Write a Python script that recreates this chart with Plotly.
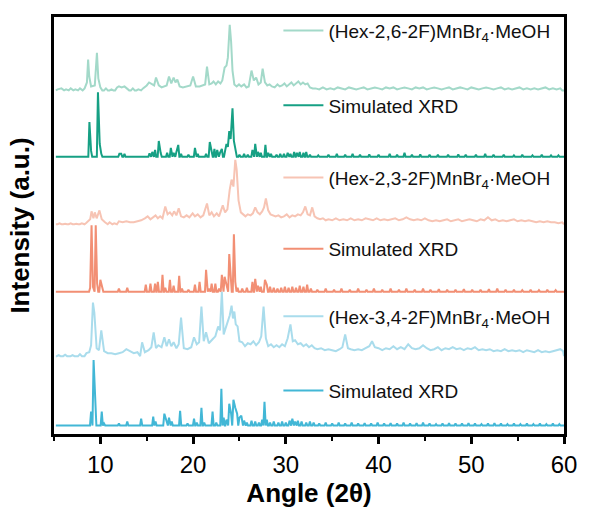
import plotly.graph_objects as go

# ---------------- data (2θ in degrees, intensity in arbitrary units) ----------------
series_names = [
    "(Hex-2,6-2F)MnBr<sub>4</sub>·MeOH",
    "Simulated XRD",
    "(Hex-2,3-2F)MnBr<sub>4</sub>·MeOH",
    "Simulated XRD",
    "(Hex-3,4-2F)MnBr<sub>4</sub>·MeOH",
    "Simulated XRD",
]

hex26_exp = [
    (5.4, 1), (5.8, 2), (6.3, 1), (6.8, 2), (7.3, 1), (7.8, 2), (8.3, 2),
    (8.55, 8), (8.68, 31), (8.8, 14), (9.0, 4), (9.4, 5), (9.63, 38), (9.78, 12), (10.0, 3),
    (10.6, 2), (11.2, 1), (11.8, 3), (12.0, 4), (12.3, 3), (12.6, 4), (12.9, 2), (13.5, 2), (14.1, 1), (14.6, 2),
    (15.0, 5), (15.25, 8), (15.55, 6), (15.8, 5), (16.0, 13), (16.3, 5), (16.6, 3), (16.9, 4), (17.15, 5),
    (17.4, 14), (17.65, 7), (17.9, 13), (18.1, 8), (18.3, 11), (18.55, 4), (18.9, 3), (19.3, 4), (19.7, 5),
    (20.0, 14), (20.3, 4), (20.7, 4), (21.0, 5), (21.3, 6), (21.5, 24), (21.75, 6), (22.0, 7), (22.2, 9),
    (22.45, 6), (22.7, 9), (22.95, 7), (23.15, 10), (23.4, 23), (23.6, 25), (23.75, 33), (23.95, 66),
    (24.1, 49), (24.25, 20), (24.45, 6), (24.7, 4), (24.95, 6), (25.2, 4), (25.5, 6), (25.75, 3), (26.0, 4),
    (26.3, 20), (26.55, 10), (26.8, 13), (27.05, 6), (27.3, 8), (27.5, 22), (27.75, 8), (28.0, 5),
    (28.25, 6), (28.5, 4), (28.8, 3), (29.1, 6), (29.35, 4), (29.6, 5), (29.85, 7), (30.1, 4), (30.35, 6),
    (30.6, 8), (30.85, 5), (31.1, 7), (31.35, 9), (31.6, 6), (31.85, 8), (32.1, 6), (32.35, 7), (32.6, 3),
    (32.9, 2), (33.2, 2), (33.6, 1), (34.0, 3), (34.4, 1), (34.8, 2), (35.2, 1), (35.6, 3), (36.0, 2),
    (36.4, 1), (36.8, 3), (37.2, 2), (37.6, 1), (38.0, 2), (38.4, 3), (38.8, 1), (39.2, 2), (39.6, 3),
    (40.0, 2), (40.4, 1), (40.8, 3), (41.2, 2), (41.6, 3), (42.0, 1), (42.4, 2), (42.8, 3), (43.2, 2),
    (43.6, 1), (44.0, 3), (44.4, 2), (44.8, 3), (45.2, 1), (45.6, 2), (46.0, 3), (46.4, 2), (46.8, 1),
    (47.2, 2), (47.6, 3), (48.0, 1), (48.4, 2), (48.8, 3), (49.2, 2), (49.6, 1), (50.0, 3), (50.4, 2),
    (50.8, 1), (51.2, 2), (51.6, 3), (52.0, 2), (52.4, 1), (52.8, 2), (53.2, 3), (53.6, 1), (54.0, 2),
    (54.4, 1), (54.8, 2), (55.2, 3), (55.6, 1), (56.0, 2), (56.4, 1), (56.8, 2), (57.2, 1), (57.6, 2),
    (58.0, 3), (58.4, 1), (58.8, 2), (59.2, 1), (59.6, 2),
]

hex26_sim = [
    (8.82, 35), (9.0, 6), (9.74, 65), (9.93, 13), (10.1, 3),
    (12.05, 3), (12.25, 3), (12.6, 3),
    (15.3, 3.5), (15.6, 5), (15.9, 7), (16.3, 16), (16.5, 4),
    (17.2, 4), (17.6, 9), (17.9, 4), (18.2, 5), (18.4, 12), (18.7, 3),
    (19.5, 2), (20.2, 9), (20.5, 3), (21.4, 3), (21.8, 15), (22.0, 3), (22.3, 8), (22.6, 7), (22.9, 4), (23.1, 8),
    (23.45, 6), (23.6, 13), (23.75, 10), (23.9, 26), (24.05, 18), (24.25, 49), (24.4, 16), (24.6, 4),
    (25.0, 2), (25.5, 3), (25.9, 2), (26.4, 7), (26.7, 13), (27.0, 5), (27.3, 4), (27.8, 12), (28.1, 4), (28.4, 3),
    (29.0, 2), (29.4, 3), (29.8, 3), (30.2, 4), (30.5, 3), (30.9, 5), (31.2, 4), (31.5, 5), (31.9, 4), (32.2, 5),
    (32.6, 2), (33.5, 1.5), (34.6, 2), (35.5, 3), (36.4, 2), (37.2, 3), (38.0, 2), (39.0, 2.5), (40.0, 2),
    (41.2, 3), (42.0, 2), (42.8, 4), (43.6, 2), (44.5, 2.5), (45.5, 2), (46.4, 2), (47.5, 2), (48.6, 2.5),
    (49.4, 2), (50.5, 2), (51.5, 3), (52.4, 2), (53.5, 2), (54.6, 1.5), (55.5, 2), (56.6, 1.5), (57.6, 2),
    (58.6, 1.5), (59.4, 1.5),
]

hex23_exp = [
    (5.6, 1), (6.2, 0.5), (6.8, 1), (7.4, 0.5), (8.0, 1), (8.5, 1.5),
    (8.9, 5), (9.05, 13), (9.25, 6), (9.4, 12), (9.6, 6), (9.9, 14), (10.15, 5), (10.5, 2), (11.0, 2),
    (11.5, 1), (12.0, 3), (12.4, 2), (12.8, 3), (13.2, 2), (13.6, 2), (14.0, 3), (14.4, 4), (14.8, 6),
    (15.1, 8), (15.4, 5), (15.7, 7), (15.95, 9), (16.2, 6), (16.45, 8), (16.7, 6), (17.0, 18), (17.25, 10),
    (17.5, 12), (17.75, 9), (17.95, 13), (18.2, 9), (18.45, 16), (18.7, 8), (19.0, 7), (19.3, 9), (19.6, 7),
    (19.95, 11), (20.2, 8), (20.5, 10), (20.8, 7), (21.1, 9), (21.5, 21), (21.75, 9), (22.0, 12), (22.25, 8),
    (22.55, 11), (22.8, 8), (23.2, 19), (23.45, 12), (23.7, 15), (23.95, 35), (24.15, 45), (24.35, 38),
    (24.55, 65), (24.7, 55), (24.9, 24), (25.15, 12), (25.4, 10), (25.65, 8), (25.9, 10), (26.2, 9),
    (26.45, 11), (26.7, 17), (26.95, 12), (27.2, 10), (27.45, 13), (27.65, 17), (27.85, 26), (28.1, 14),
    (28.35, 10), (28.6, 9), (28.9, 8), (29.2, 9), (29.5, 7), (29.8, 8), (30.1, 10), (30.4, 7), (30.7, 9),
    (31.0, 8), (31.3, 10), (31.6, 9), (31.85, 12), (32.1, 18), (32.35, 10), (32.6, 9), (32.85, 17),
    (33.1, 8), (33.4, 6), (33.7, 5), (34.0, 6), (34.3, 4), (34.6, 5), (35.0, 4), (35.4, 6), (35.8, 4),
    (36.2, 5), (36.6, 4), (37.0, 6), (37.4, 4), (37.8, 5), (38.2, 4), (38.6, 6), (39.0, 5), (39.4, 4),
    (39.8, 6), (40.2, 4), (40.6, 5), (41.0, 4), (41.4, 5), (41.8, 6), (42.2, 4), (42.6, 5), (43.0, 7),
    (43.4, 5), (43.8, 4), (44.2, 5), (44.6, 4), (45.0, 6), (45.4, 4), (45.8, 3), (46.2, 4), (46.6, 3),
    (47.0, 4), (47.4, 5), (47.8, 3), (48.2, 4), (48.6, 5), (49.0, 3), (49.4, 4), (49.8, 5), (50.2, 4),
    (50.6, 3), (51.0, 5), (51.4, 4), (51.8, 7), (52.2, 4), (52.6, 5), (53.0, 3), (53.4, 4), (53.8, 3),
    (54.2, 4), (54.6, 5), (55.0, 3), (55.4, 4), (55.8, 3), (56.2, 4), (56.6, 3), (57.0, 2), (57.4, 3),
    (57.8, 2), (58.2, 3), (58.6, 2), (59.0, 2), (59.4, 1), (59.8, 2),
]

hex23_sim = [
    (8.9, 4), (9.05, 67), (9.2, 5), (9.5, 67), (9.65, 8), (10.0, 12), (10.2, 3),
    (12.0, 3), (12.9, 4), (14.9, 7), (15.4, 8), (15.9, 8), (16.2, 10), (16.7, 17), (17.0, 4),
    (17.5, 12), (17.9, 6), (18.5, 16), (18.8, 3), (19.5, 2), (20.2, 7), (20.7, 10), (21.4, 22), (21.7, 3),
    (22.0, 8), (22.4, 8), (22.8, 3), (23.1, 17), (23.4, 15), (23.6, 6), (23.9, 38), (24.05, 20),
    (24.4, 58), (24.55, 10), (24.8, 4), (25.3, 3), (25.8, 4), (26.4, 10), (26.7, 13), (27.0, 6),
    (27.3, 5), (27.75, 12), (27.95, 7), (28.3, 5), (28.7, 4), (29.1, 3), (29.5, 4), (29.9, 5), (30.3, 4),
    (30.7, 5), (31.1, 4), (31.5, 6), (31.9, 5), (32.3, 7), (32.7, 3), (33.4, 2), (34.3, 3), (35.2, 2),
    (36.0, 3), (36.9, 2), (37.8, 3), (38.7, 2), (39.5, 3), (40.4, 2), (41.3, 3), (42.2, 2), (43.0, 3),
    (43.9, 2), (44.8, 3), (45.6, 2), (46.5, 2.5), (47.4, 2), (48.3, 2), (49.2, 2.5), (50.1, 2), (51.0, 2),
    (51.9, 2.5), (52.8, 3), (53.7, 2), (54.6, 2), (55.5, 1.5), (56.4, 2), (57.3, 1.5), (58.2, 2), (59.1, 1.5),
]

hex34_exp = [
    (5.5, 1), (6.2, 1.5), (7.0, 1), (7.8, 2), (8.5, 3), (8.8, 4),
    (9.0, 11), (9.2, 54), (9.35, 44), (9.6, 8), (9.85, 6), (10.1, 26), (10.4, 5), (10.8, 3), (11.2, 3),
    (11.6, 2), (12.0, 3), (12.4, 4), (12.8, 7), (13.2, 5), (13.6, 3), (14.0, 4), (14.5, 14), (14.8, 4),
    (15.2, 6), (15.5, 9), (15.75, 24), (16.0, 8), (16.25, 11), (16.6, 9), (16.9, 19), (17.15, 10),
    (17.4, 17), (17.65, 10), (17.9, 14), (18.2, 8), (18.45, 12), (18.7, 39), (19.0, 8), (19.4, 7),
    (19.8, 9), (20.1, 19), (20.4, 12), (20.65, 14), (20.9, 50), (21.15, 15), (21.4, 24), (21.7, 13),
    (22.1, 17), (22.4, 20), (22.7, 30), (22.9, 26), (23.1, 65), (23.3, 22), (23.5, 28), (23.75, 35),
    (23.95, 41), (24.15, 51), (24.3, 38), (24.45, 45), (24.6, 32), (24.8, 30), (25.0, 15), (25.3, 14),
    (25.6, 10), (25.9, 13), (26.2, 12), (26.5, 15), (26.8, 11), (27.1, 14), (27.35, 20), (27.6, 50),
    (27.85, 18), (28.1, 10), (28.4, 12), (28.7, 9), (29.0, 11), (29.3, 9), (29.6, 12), (29.9, 10),
    (30.2, 18), (30.5, 32), (30.75, 15), (31.0, 16), (31.3, 12), (31.6, 13), (31.9, 10), (32.2, 12),
    (32.5, 9), (32.8, 11), (33.1, 8), (33.4, 7), (33.8, 8), (34.2, 6), (34.6, 7), (35.0, 6), (35.4, 5),
    (35.8, 7), (36.1, 9), (36.4, 22), (36.7, 8), (37.0, 7), (37.4, 6), (37.8, 7), (38.2, 6), (38.6, 8),
    (39.0, 10), (39.3, 15), (39.6, 9), (40.0, 8), (40.4, 6), (40.8, 8), (41.2, 7), (41.6, 10), (42.0, 7),
    (42.4, 9), (42.8, 7), (43.2, 12), (43.6, 8), (44.0, 7), (44.4, 8), (44.8, 11), (45.2, 8), (45.6, 6),
    (46.0, 7), (46.4, 9), (46.8, 6), (47.2, 8), (47.6, 7), (48.0, 9), (48.4, 7), (48.8, 8), (49.2, 6),
    (49.6, 8), (50.0, 7), (50.4, 9), (50.8, 6), (51.2, 7), (51.6, 6), (52.0, 7), (52.4, 5), (52.8, 6),
    (53.2, 5), (53.6, 7), (54.0, 5), (54.4, 6), (54.8, 5), (55.2, 6), (55.6, 4), (56.0, 6), (56.4, 5),
    (56.8, 4), (57.2, 6), (57.6, 4), (58.0, 5), (58.4, 4), (58.8, 5), (59.2, 6), (59.6, 7), (59.9, 5),
]

hex34_sim = [
    (9.0, 14), (9.27, 66), (9.45, 12), (10.15, 14), (10.4, 2), (12.0, 2), (12.9, 4), (14.4, 7),
    (15.7, 9), (15.95, 4), (16.9, 12), (17.1, 6), (17.4, 8), (17.7, 4), (18.6, 15), (19.4, 2),
    (20.1, 7), (20.4, 3), (20.9, 18), (21.2, 3), (22.1, 14), (22.5, 3), (23.05, 37), (23.3, 8),
    (23.6, 6), (23.9, 22), (24.1, 12), (24.35, 26), (24.55, 18), (24.75, 12), (25.0, 8), (25.2, 10),
    (25.5, 5), (25.8, 3), (26.3, 5), (26.7, 4), (27.1, 3), (27.45, 6), (27.7, 24), (27.95, 6),
    (28.3, 3), (28.7, 4), (29.2, 3), (29.6, 4), (30.0, 3), (30.4, 5), (30.7, 7), (31.0, 4), (31.3, 5),
    (31.7, 4), (32.2, 3), (32.6, 4), (33.0, 3), (33.6, 2), (34.3, 3), (35.0, 2), (35.7, 3), (36.4, 2),
    (37.1, 3), (37.8, 2), (38.5, 2.5), (39.2, 2), (39.9, 3), (40.6, 2), (41.3, 2.5), (42.0, 2),
    (42.7, 3), (43.4, 2), (44.1, 2.5), (44.8, 3), (45.5, 2), (46.2, 1.5), (46.9, 2), (47.6, 2.5),
    (48.3, 2), (49.0, 2), (49.7, 2.5), (50.4, 2), (51.1, 1.5), (51.8, 2), (52.5, 2.5), (53.2, 2),
    (53.9, 1.5), (54.6, 2), (55.3, 1.5), (56.0, 2), (56.7, 1.5), (57.4, 2), (58.1, 1.5), (58.8, 2), (59.5, 1.5),
]

x_ticks = [10, 20, 30, 40, 50, 60]

# ---------------- styling ----------------
all_series = [hex26_exp, hex26_sim, hex23_exp, hex23_sim, hex34_exp, hex34_sim]
offsets = [346.5, 279.5, 211.5, 143.5, 78.5, 8.5]
half_widths = [0.21, 0.12, 0.21, 0.12, 0.21, 0.12]
colors = ["#a3d9c9", "#16a084", "#f7c4b4", "#f28f74", "#a9dcec", "#42b7d6"]
legend_y = [0.967, 0.788, 0.615, 0.444, 0.282, 0.104]
FONT = "Liberation Sans, Arial, Helvetica, sans-serif"


def build(peaks, base, w, x0=5.2, x1=60.0):
    pk = sorted(peaks)
    xs, ys = [x0], [base]
    last, last_peak = x0, False
    for a, h in pk:
        if last_peak:
            if a - last > 2 * w + 1e-6:
                xs += [last + w, a - w]
                ys += [base, base]
        elif a - last > w:
            xs.append(a - w)
            ys.append(base)
        xs.append(a)
        ys.append(base + h)
        last, last_peak = a, True
    if x1 - last > w:
        xs.append(last + w)
        ys.append(base)
    xs.append(x1)
    ys.append(base)
    return xs, ys


fig = go.Figure()
for i, (pk, name) in enumerate(zip(all_series, series_names)):
    xs, ys = build(pk, offsets[i], half_widths[i])
    lg = "legend" if i == 0 else f"legend{i + 1}"
    fig.add_trace(go.Scatter(
        x=xs, y=ys, mode="lines", name=name,
        line=dict(color=colors[i], width=2),
        legend=lg, showlegend=True,
    ))

layout_legends = {}
for i in range(6):
    key = "legend" if i == 0 else f"legend{i + 1}"
    layout_legends[key] = dict(
        x=0.44, xanchor="left", y=legend_y[i], yanchor="middle",
        bgcolor="rgba(0,0,0,0)", borderwidth=0,
        font=dict(family=FONT, size=19, color="#111111"),
        itemwidth=40,
    )

fig.update_layout(
    width=589, height=516,
    margin=dict(l=54, r=18, t=16, b=80),
    paper_bgcolor="white", plot_bgcolor="white",
    font=dict(family=FONT, color="black"),
    **layout_legends,
)

fig.update_xaxes(
    range=[5, 60], tickvals=x_ticks, ticks="outside", ticklen=7, tickwidth=2.5, tickcolor="black",
    minor=dict(dtick=5, tick0=0, ticks="outside", ticklen=4, tickwidth=2, tickcolor="black"),
    showline=True, linewidth=3, linecolor="black", mirror=True,
    showgrid=False, zeroline=False,
    tickfont=dict(family=FONT, size=24, color="black"),
    title=dict(text="<b>Angle (2θ)</b>", font=dict(family=FONT, size=26, color="black"), standoff=8),
)
fig.update_yaxes(
    range=[0, 420.5], showticklabels=False, ticks="",
    showline=True, linewidth=3, linecolor="black", mirror=True,
    showgrid=False, zeroline=False,
    title=dict(text="<b>Intensity (a.u.)</b>", font=dict(family=FONT, size=26, color="black"), standoff=14),
)

fig.write_html("out.html")
